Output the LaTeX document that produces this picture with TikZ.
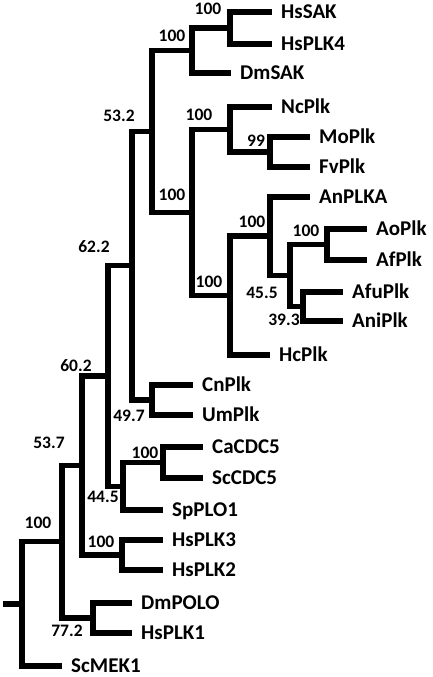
\documentclass[tikz,border=0pt]{standalone}
\usepackage{fontspec}
\setmainfont{Carlito}
\usepackage{tikz}
\usetikzlibrary{positioning}

\begin{document}
\begin{tikzpicture}[x=1pt,y=-1pt,
    branch/.style={line width=5.4pt},
    leaf/.style={anchor=west,inner xsep=9pt,inner ysep=0pt,text height=13.5pt,text depth=0pt,
      font=\fontsize{21}{22}\selectfont\bfseries},
    boot/.style={inner sep=0pt,font=\fontsize{17.5}{18}\selectfont\bfseries}]
  \useasboundingbox (0,0) rectangle (433,677);

  % leaves
  \node[leaf] (HsSAK)  at (272,12)  {HsSAK};
  \node[leaf] (HsPLK4) at (272,44)  {HsPLK4};
  \node[leaf] (DmSAK)  at (231,73)  {DmSAK};
  \node[leaf] (NcPlk)  at (272,107) {NcPlk};
  \node[leaf] (MoPlk)  at (310,137) {MoPlk};
  \node[leaf] (FvPlk)  at (310,167) {FvPlk};
  \node[leaf] (AnPLKA) at (310,197) {AnPLKA};
  \node[leaf] (AoPlk)  at (367,229) {AoPlk};
  \node[leaf] (AfPlk)  at (367,260) {AfPlk};
  \node[leaf] (AfuPlk) at (343,292) {AfuPlk};
  \node[leaf] (AniPlk) at (343,321) {AniPlk};
  \node[leaf] (HcPlk)  at (270,355) {HcPlk};
  \node[leaf] (CnPlk)  at (193,385) {CnPlk};
  \node[leaf] (UmPlk)  at (193,415) {UmPlk};
  \node[leaf] (CaCDC5) at (203,447) {CaCDC5};
  \node[leaf] (ScCDC5) at (203,478) {ScCDC5};
  \node[leaf] (SpPLO1) at (163,510) {SpPLO1};
  \node[leaf] (HsPLK3) at (163,540) {HsPLK3};
  \node[leaf] (HsPLK2) at (163,570) {HsPLK2};
  \node[leaf] (DmPOLO) at (132,603) {DmPOLO};
  \node[leaf] (HsPLK1) at (132,633) {HsPLK1};
  \node[leaf] (ScMEK1) at (62,666)  {ScMEK1};

  % internal nodes
  \coordinate (nSAK)    at (230,28);
  \coordinate (nSAKb)   at (192,50.5);
  \coordinate (nMoFv)   at (270,152);
  \coordinate (nNc)     at (230,129.5);
  \coordinate (nAoAf)   at (327,244.5);
  \coordinate (nAfuAni) at (303,306.5);
  \coordinate (nAsp)    at (290,275.5);
  \coordinate (nAn)     at (270,236);
  \coordinate (nHc)     at (230,295.5);
  \coordinate (nFungi)  at (192,212.5);
  \coordinate (nPlk4)   at (152,131.5);
  \coordinate (nCnUm)   at (152,400);
  \coordinate (nUp)     at (132,265.75);
  \coordinate (nCaSc)   at (163,462.5);
  \coordinate (nYeast)  at (123,486.25);
  \coordinate (nMid)    at (108,376);
  \coordinate (nPLK23)  at (122,555);
  \coordinate (nA)      at (82,465.5);
  \coordinate (nPolo)   at (93,618);
  \coordinate (nB)      at (62,541.75);
  \coordinate (nRoot)   at (22,603.9);
  \coordinate (stem)    at (3,603.9);

  % branches
  \foreach \p/\c in {nSAK/HsSAK,nSAK/HsPLK4,nSAKb/nSAK,nSAKb/DmSAK,
      nMoFv/MoPlk,nMoFv/FvPlk,nNc/NcPlk,nNc/nMoFv,
      nAoAf/AoPlk,nAoAf/AfPlk,nAfuAni/AfuPlk,nAfuAni/AniPlk,
      nAsp/nAoAf,nAsp/nAfuAni,nAn/AnPLKA,nAn/nAsp,nHc/nAn,nHc/HcPlk,
      nFungi/nNc,nFungi/nHc,nPlk4/nSAKb,nPlk4/nFungi,
      nCnUm/CnPlk,nCnUm/UmPlk,nUp/nPlk4,nUp/nCnUm,
      nCaSc/CaCDC5,nCaSc/ScCDC5,nYeast/nCaSc,nYeast/SpPLO1,
      nMid/nUp,nMid/nYeast,nPLK23/HsPLK3,nPLK23/HsPLK2,
      nA/nMid,nA/nPLK23,nPolo/DmPOLO,nPolo/HsPLK1,
      nB/nA,nB/nPolo,nRoot/nB,nRoot/ScMEK1}
    \draw[branch] (\p) |- (\c);
  \draw[branch] (stem) -- (nRoot);

  % support values
  \node[boot] (bSAK)    at (208,9)   {100};
  \node[boot] (bSAKb)   at (172,36)  {100};
  \node[boot] (bPlk4)   at (119,116) {53.2};
  \node[boot] (bNc)     at (199,115) {100};
  \node[boot] (bMoFv)   at (256,141) {99};
  \node[boot] (bFungi)  at (172,195) {100};
  \node[boot] (bAn)     at (252,222) {100};
  \node[boot] (bAoAf)   at (306,231) {100};
  \node[boot] (bUp)     at (94,247)  {62.2};
  \node[boot] (bHc)     at (209,282) {100};
  \node[boot] (bAsp)    at (262,293) {45.5};
  \node[boot] (bAfuAni) at (284,320) {39.3};
  \node[boot] (bMid)    at (76,366)  {60.2};
  \node[boot] (bCnUm)   at (129,416) {49.7};
  \node[boot] (bA)      at (49,443)  {53.7};
  \node[boot] (bCaSc)   at (145,453) {100};
  \node[boot] (bYeast)  at (103,497) {44.5};
  \node[boot] (bB)      at (38,523)  {100};
  \node[boot] (bPLK23)  at (101,542) {100};
  \node[boot] (bPolo)   at (67,631)  {77.2};
\end{tikzpicture}
\end{document}
